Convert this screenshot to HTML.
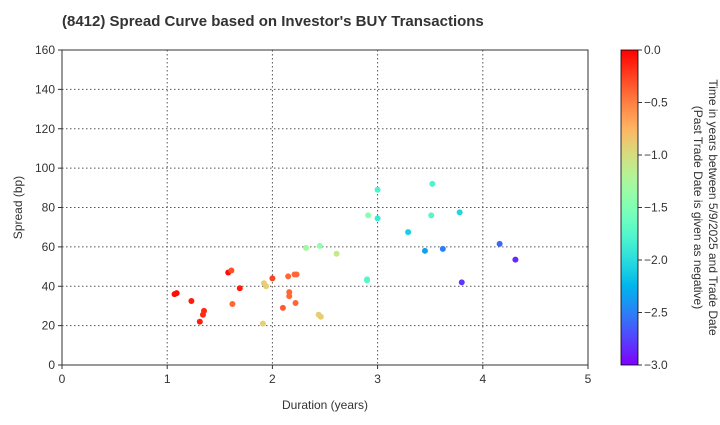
<!DOCTYPE html>
<html><head><meta charset="utf-8"><style>
body{margin:0;background:#fff;font-family:"Liberation Sans",Arial,sans-serif}
svg text{font-family:"Liberation Sans",Arial,sans-serif}
</style></head><body>
<svg id="c" width="720" height="420" xmlns="http://www.w3.org/2000/svg">
<defs><linearGradient id="g" x1="0" y1="1" x2="0" y2="0" id2="cbgrad"></linearGradient></defs>
<text x="62" y="26" font-size="15" font-weight="bold" fill="#333">(8412)   Spread Curve based on Investor's BUY Transactions</text>
</svg>
<script>
const durations=[1.07,1.09,1.23,1.31,1.34,1.35,1.58,1.61,1.62,1.69,1.91,1.92,1.94,2.0,2.1,2.15,2.16,2.16,2.21,2.23,2.22,2.44,2.46,2.32,2.45,2.61,2.91,2.90,2.90,3.0,3.0,3.29,3.45,3.52,3.51,3.62,3.78,3.80,4.16,4.31];
const spreads=[36,36.5,32.5,22,25.5,27.5,47,48,31,39,21,41.5,40,44,29,45,37,35,46,46,31.5,25.5,24.5,59.5,60.5,56.5,76,43.5,43,89,74.5,67.5,58,92,76,59,77.5,42,61.5,53.5];
const ages=[-0.05,-0.05,-0.1,-0.1,-0.15,-0.15,-0.05,-0.3,-0.4,-0.1,-0.9,-0.9,-0.9,-0.25,-0.35,-0.4,-0.4,-0.4,-0.4,-0.4,-0.4,-0.9,-0.9,-1.3,-1.4,-1.1,-1.45,-1.75,-1.75,-1.8,-1.9,-2.1,-2.35,-1.8,-1.75,-2.5,-2.05,-2.8,-2.6,-2.85];
const xTicks=[0,1,2,3,4,5];
const yTicks=[0,20,40,60,80,100,120,140,160];
const cTicks=[0,-0.5,-1,-1.5,-2,-2.5,-3];
const L=62,R=588,T=50,B=365;
const X=v=>L+(v-0)/5*(R-L), Y=v=>B-v/160*(B-T);
const NS="http://www.w3.org/2000/svg",svg=document.getElementById('c');
function mk(t,a,p){const e=document.createElementNS(NS,t);for(const k in a)e.setAttribute(k,a[k]);(p||svg).appendChild(e);return e;}
function rb(v){const x=(v+3)/3;const c=n=>Math.round(Math.max(0,Math.min(1,n))*255);
return `rgb(${c(Math.abs(2*x-0.5))},${c(Math.sin(Math.PI*x))},${c(Math.cos(Math.PI*x/2))})`;}
// grid
xTicks.forEach(t=>{if(t>0&&t<5){const l=mk('line',{x1:X(t),x2:X(t),y1:T,y2:B,stroke:'#555','stroke-dasharray':'1.5,2.5','stroke-width':1});
}
const tx=mk('text',{x:X(t),y:B+18,'font-size':12,'text-anchor':'middle',fill:'#333'});tx.textContent=t;

mk('line',{x1:X(t),x2:X(t),y1:B,y2:B+4,stroke:'#333'});});
yTicks.forEach(t=>{if(t>0&&t<160){const l=mk('line',{x1:L,x2:R,y1:Y(t),y2:Y(t),stroke:'#555','stroke-dasharray':'1.5,2.5','stroke-width':1});
}
const tx=mk('text',{x:L-7,y:Y(t)+4,'font-size':12,'text-anchor':'end',fill:'#333'});tx.textContent=t;

mk('line',{x1:L-4,x2:L,y1:Y(t),y2:Y(t),stroke:'#333'});});
const fr=mk('rect',{x:L,y:T,width:R-L,height:B-T,fill:'none',stroke:'#333'});

durations.forEach((d,i)=>{const c=mk('circle',{cx:X(d),cy:Y(spreads[i]),r:3,fill:rb(ages[i])});
});
let xl=mk('text',{x:(L+R)/2,y:409,'font-size':12,'text-anchor':'middle',fill:'#333'});xl.textContent='Duration (years)';

let yl=mk('text',{x:0,y:0,'font-size':12,'text-anchor':'middle',fill:'#333',transform:`translate(22,${(T+B)/2}) rotate(-90)`});yl.textContent='Spread (bp)';

// colorbar
const g=document.querySelector('linearGradient');
for(let i=0;i<=20;i++){mk('stop',{offset:i/20,'stop-color':rb(-3+3*i/20)},g);}
const CL=621,CR=638,CY=v=>T+(-v)/3*(B-T);
const cb=mk('rect',{x:CL,y:T,width:CR-CL,height:B-T,fill:'url(#g)',stroke:'#000','stroke-width':0.8});

cTicks.forEach(t=>{mk('line',{x1:CR,x2:CR+4,y1:CY(t),y2:CY(t),stroke:'#333'});
const tx=mk('text',{x:CR+6,y:CY(t)+4,'font-size':12,fill:'#333'});tx.textContent=(t===0?'0.0':t.toFixed(1).replace('-','\u2212'));
});
const ct=mk('text',{x:0,y:0,'font-size':12,'text-anchor':'middle',fill:'#333',transform:`translate(700,${(T+B)/2}) rotate(90)`});

const s1=mk('tspan',{x:0,dy:0},ct);s1.textContent='Time in years between 5/9/2025 and Trade Date';
const s2=mk('tspan',{x:0,dy:15},ct);s2.textContent='(Past Trade Date is given as negative)';
ct.setAttribute('transform',`translate(702,${(T+B)/2}) rotate(90)`);
ct.setAttribute('dy','0');
s1.setAttribute('dy','0');s2.setAttribute('dy','15');
ct.setAttribute('transform',`translate(701,${(T+B)/2}) rotate(90) translate(0,-8)`);
</script>
</body></html>
